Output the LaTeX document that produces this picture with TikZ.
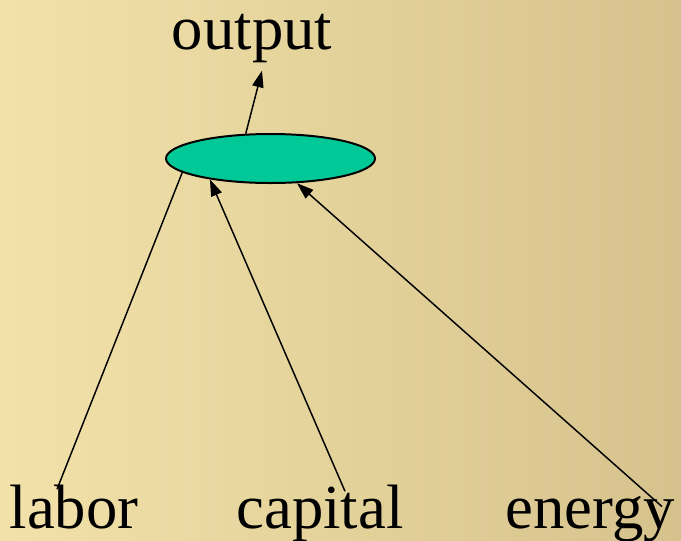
\documentclass[tikz,border=0pt]{standalone}
\usepackage{fontspec}
\setmainfont{Liberation Serif}
\usetikzlibrary{arrows.meta,positioning,shapes.geometric}
\definecolor{paper}{HTML}{F2E2AA}
\definecolor{paperdark}{HTML}{D6C28C}
\definecolor{prodfill}{HTML}{00C896}
\tikzset{
  lbl/.style={inner sep=0pt, anchor=base, font=\fontsize{47}{50}\selectfont},
  prodnode/.style={ellipse, draw, line width=1.5pt, fill=prodfill,
    minimum width=156.75pt, minimum height=36.75pt, inner sep=0pt},
  arr/.style={-{Triangle[length=12.5pt, width=8.5pt]}, line width=1.1pt},
  plainline/.style={line width=1.1pt}
}

\begin{document}
\begin{tikzpicture}[x=0.75pt, y=-0.75pt]
    \shade[left color=paper, right color=paperdark] (0,0) rectangle (681,540);
    \useasboundingbox (0,0) rectangle (681,540);

    \node[prodnode] (prod) at (270.5,158.5) {};
    \node[lbl] (output) at (252,49) {output};
    \node[lbl] (labor) at (74,528) {labor};
    \node[lbl] (capital) at (320,528) {capital};
    \node[lbl] (energy) at (590,528) {energy};

    \draw[arr] (prod.135) -- ([shift={(10,8)}]output.south);
    \draw[plainline] ([shift={(-17,5)}]labor.north) -- (prod.189);
    \draw[arr] ([shift={(25,7)}]capital.north) -- (prod.199);
    \draw[arr] ([shift={(72,11)}]energy.north) -- (prod.317);
  \end{tikzpicture}
\end{document}
